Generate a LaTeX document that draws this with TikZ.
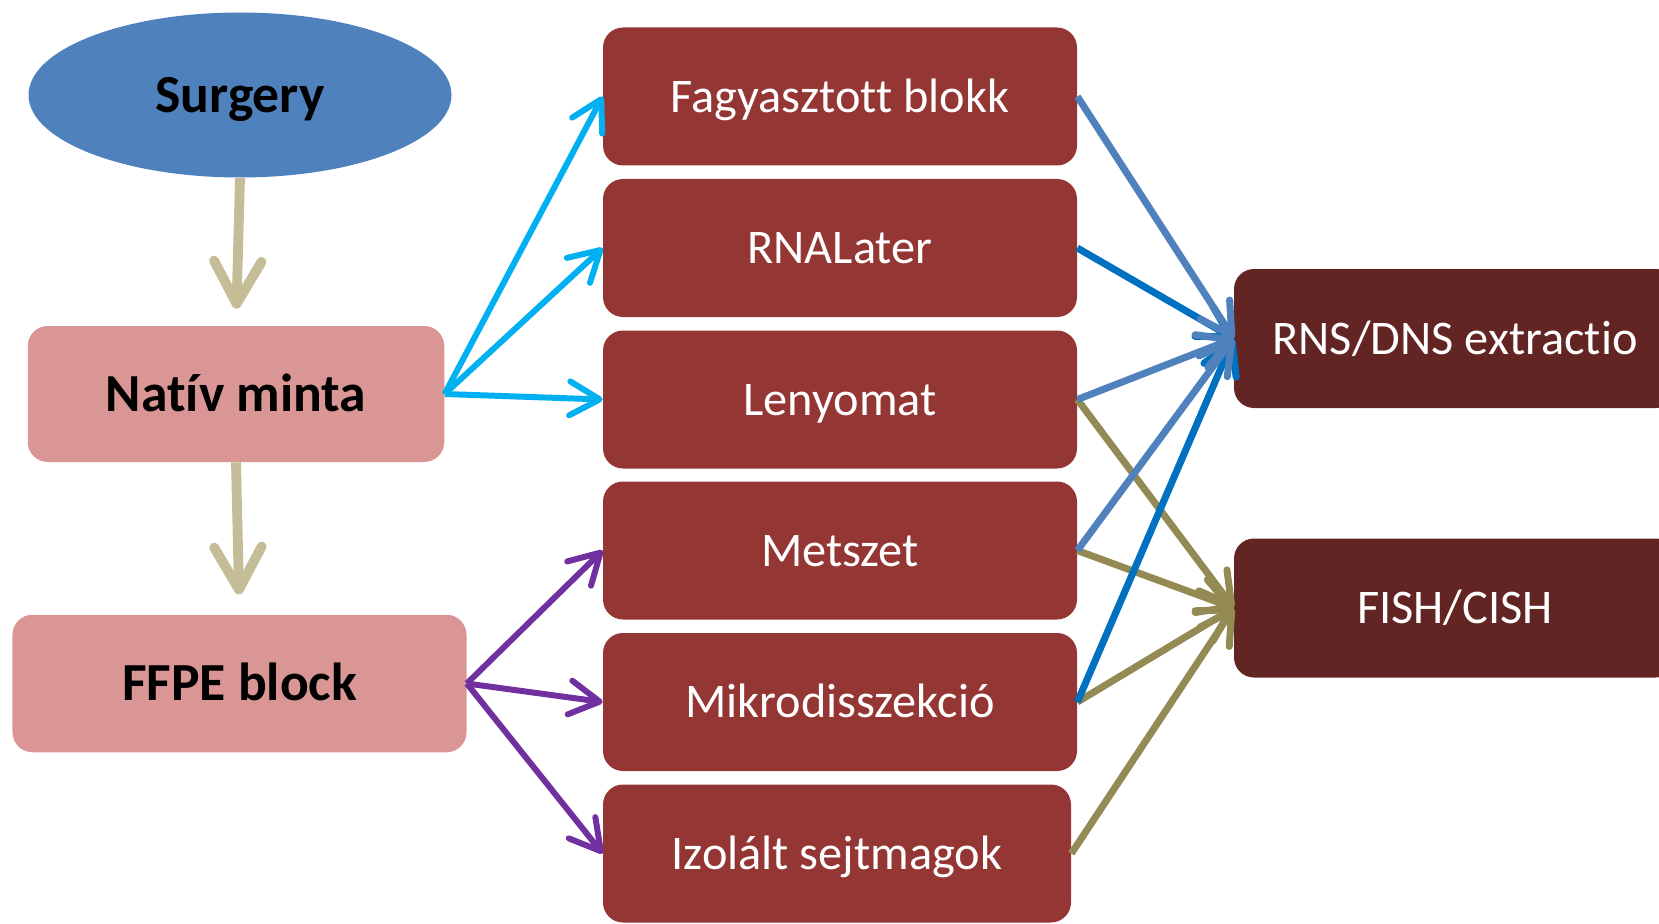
\documentclass[tikz,border=0pt]{standalone}
\usepackage{fontspec}
\setmainfont{Carlito}[Ligatures=NoCommon]
\usetikzlibrary{shapes.geometric,arrows.meta}
\definecolor{surgblue}{HTML}{4F81BD}
\definecolor{pinkbox}{HTML}{D99694}
\definecolor{redbox}{HTML}{943634}
\definecolor{darkbox}{HTML}{632523}
\definecolor{beigearr}{HTML}{C4BD97}
\definecolor{cyanarr}{HTML}{00B0F0}
\definecolor{purplearr}{HTML}{7030A0}
\definecolor{bluearr}{HTML}{0070C0}
\definecolor{olivearr}{HTML}{948A54}

\begin{document}
\begin{tikzpicture}[
	leftbox/.style={rectangle, rounded corners=0.4cm, fill=pinkbox, text=black, text height=19.6pt, text depth=0pt, font=\fontsize{30.5}{36}\selectfont\bfseries},
	midbox/.style={rectangle, rounded corners=0.4cm, fill=redbox, minimum width=9.48cm, minimum height=2.76cm, text=white, text height=17.7pt, text depth=0pt, font=\fontsize{27.5}{33}\selectfont},
	rightbox/.style={rectangle, rounded corners=0.4cm, fill=darkbox, minimum width=8.84cm, minimum height=2.78cm, text=white, text height=17.7pt, text depth=0pt, font=\fontsize{27.5}{33}\selectfont},
	downarrow/.style={draw=beigearr, line width=5.6pt, -{Straight Barb[length=0.85cm,width=0.95cm,round]}},
	fanarrow/.style={line width=3.4pt, -{Straight Barb[length=0.6cm,width=0.68cm,round]}},
	endarrow/.style={line width=4pt, -{Straight Barb[length=0.62cm,width=0.7cm,round]}}
]
	\clip (0,0) rectangle (33.18,18.46);
	\node[ellipse, fill=surgblue, minimum width=8.46cm, minimum height=3.3cm, inner sep=0pt, text height=19.6pt, text depth=0pt, font=\fontsize{30.5}{36}\selectfont\bfseries] (surgery) at (4.80,16.56) {Surgery};
	\node[leftbox, minimum width=8.33cm, minimum height=2.72cm] (nativ) at (4.72,10.58) {Natív minta};
	\node[leftbox, minimum width=9.08cm, minimum height=2.75cm] (ffpe) at (4.79,4.79) {FFPE block};
	\node[midbox] (fagy) at (16.80,16.53) {Fagyasztott blokk};
	\node[midbox] (rnal) at (16.80,13.50) {RNALater};
	\node[midbox] (leny) at (16.80,10.47) {Lenyomat};
	\node[midbox] (mets) at (16.80,7.45) {Metszet};
	\node[midbox] (mikro) at (16.80,4.42) {Mikrodisszekció};
	\node[midbox, minimum width=9.36cm] (izol) at (16.74,1.39) {Izolált sejtmagok};
	\node[rightbox] (rns) at (29.10,11.69) {RNS/DNS extractio};
	\node[rightbox] (fish) at (29.10,6.30) {FISH/CISH};

	\draw[downarrow, shorten >=0.34cm] (surgery.south) -- (nativ.north);
	\draw[downarrow, shorten >=0.4cm] (nativ.south) -- (ffpe.north);

	\draw[fanarrow, cyanarr] (nativ.east) -- (fagy.west);
	\draw[fanarrow, cyanarr] (nativ.east) -- (rnal.west);
	\draw[fanarrow, cyanarr] (nativ.east) -- (leny.west);
	\draw[fanarrow, purplearr] (ffpe.east) -- (mets.west);
	\draw[fanarrow, purplearr] (ffpe.east) -- (mikro.west);
	\draw[fanarrow, purplearr] (ffpe.east) -- (izol.west);

	\draw[endarrow, olivearr] (leny.east) -- (fish.west);
	\draw[endarrow, olivearr] (mets.east) -- (fish.west);
	\draw[endarrow, olivearr] (mikro.east) -- (fish.west);
	\draw[endarrow, olivearr] (izol.east) -- (fish.west);
	\draw[endarrow, bluearr] (rnal.east) -- (rns.west);
	\draw[endarrow, bluearr] (mikro.east) -- (rns.west);
	\draw[endarrow, surgblue] (fagy.east) -- (rns.west);
	\draw[endarrow, surgblue] (leny.east) -- (rns.west);
	\draw[endarrow, surgblue] (mets.east) -- (rns.west);
\end{tikzpicture}
\end{document}
